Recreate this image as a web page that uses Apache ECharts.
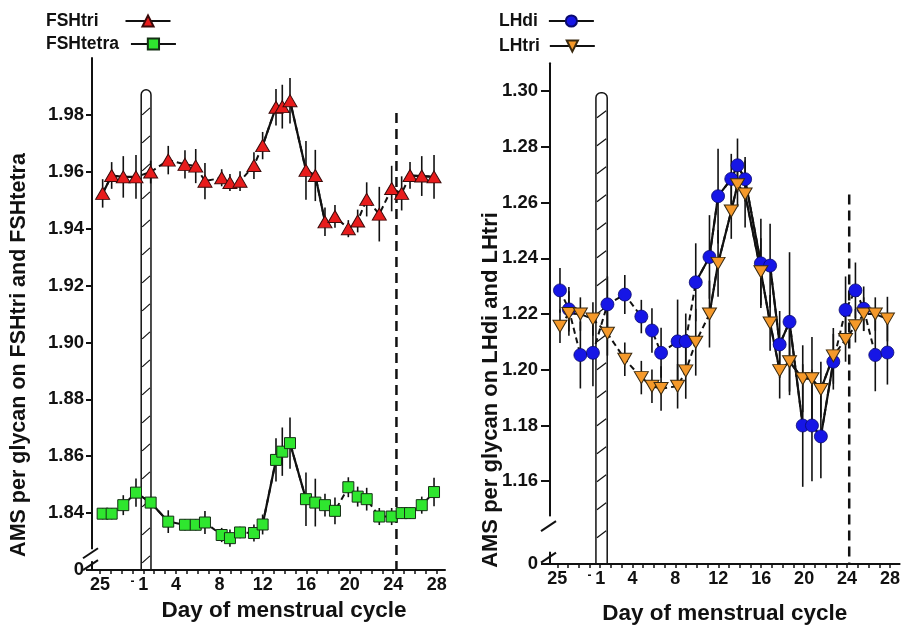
<!DOCTYPE html>
<html><head><meta charset="utf-8">
<script src="https://cdn.jsdelivr.net/npm/echarts@6/dist/echarts.min.js"></script>
<style>html,body{margin:0;padding:0;background:#fff}#c{width:903px;height:630px}</style>
</head><body><div id="c"></div>
<script>
// ---- data (day of cycle; previous-cycle days as <=0) ----
const days = [-2.75,-1.92,-0.85,0.32,1.67,3.29,4.83,5.82,6.67,8.21,8.97,9.90,11.18,11.98,13.21,13.79,14.5,15.97,16.83,17.72,18.64,19.87,20.73,21.56,22.72,23.86,24.78,25.55,26.63,27.76];
const fshTri = [1.9524,1.9587,1.9582,1.9582,1.9599,1.9641,1.9626,1.9620,1.9567,1.9579,1.9562,1.9567,1.9622,1.9692,1.9827,1.9829,1.9850,1.9605,1.9587,1.9424,1.9443,1.9400,1.9427,1.9503,1.9451,1.9541,1.9524,1.9587,1.9585,1.9582];
const fshTriErr = [0.005,0.0047,0.0073,0.0077,0.004,0.005,0.005,0.006,0.0064,0.003,0.003,0.0035,0.0047,0.0048,0.0064,0.0077,0.008,0.0103,0.009,0.005,0.004,0.003,0.004,0.006,0.0096,0.008,0.006,0.0047,0.007,0.0077];
const fshTetra = [1.8398,1.8398,1.8428,1.8472,1.8437,1.8370,1.8359,1.8359,1.8367,1.8323,1.8312,1.8332,1.8330,1.8360,1.8587,1.8616,1.8646,1.8449,1.8437,1.8428,1.8408,1.8491,1.8458,1.8449,1.8388,1.8388,1.8400,1.8400,1.8428,1.8474];
const fshTetraErr = [0.002,0.002,0.0035,0.005,0.002,0.004,0.002,0.002,0.004,0.0025,0.003,0.002,0.003,0.0035,0.0076,0.0085,0.009,0.0094,0.0084,0.004,0.0047,0.0035,0.0035,0.004,0.003,0.003,0.002,0.002,0.003,0.005];
const lhDi = [1.2285,1.2217,1.2053,1.2061,1.2235,1.2270,1.2191,1.2141,1.2061,1.2102,1.2102,1.2314,1.2405,1.2623,1.2685,1.2734,1.2684,1.2382,1.2374,1.2091,1.2172,1.1800,1.1800,1.1761,1.2029,1.2215,1.2285,1.2219,1.2053,1.2062];
const lhDiErr = [0.008,0.008,0.012,0.012,0.01,0.007,0.006,0.008,0.009,0.015,0.01,0.014,0.015,0.017,0.009,0.0096,0.008,0.016,0.015,0.012,0.025,0.022,0.02,0.015,0.01,0.012,0.01,0.008,0.013,0.0115];
const lhTri = [1.2156,1.2202,1.2200,1.2182,1.2131,1.2038,1.1972,1.1941,1.1933,1.1941,1.1996,1.2099,1.2200,1.2382,1.2570,1.2664,1.2631,1.2352,1.2168,1.1997,1.2029,1.1968,1.1968,1.1929,1.2050,1.2109,1.2158,1.2200,1.2200,1.2182];
const lhTriErr = [0.006,0.008,0.006,0.006,0.008,0.006,0.006,0.006,0.008,0.008,0.01,0.012,0.012,0.012,0.01,0.008,0.012,0.012,0.01,0.01,0.012,0.012,0.015,0.01,0.01,0.008,0.006,0.006,0.006,0.008];
// index ranges drawn with solid connecting line (others dashed)
const fshTriSolid = [[0,3],[13,19],[27,29]];
const fshTetraSolid = [[3,5],[12,18]];
const lhDiSolid = [[11,24]];
const lhTriSolid = [[12,24]];
// tick labels
const xTickDays = [-3,-2,-1,0,1,2,3,4,5,6,7,8,9,10,11,12,13,14,15,16,17,18,19,20,21,22,23,24,25,26,27,28];
const xLabelDays = [-3,0,1,4,8,12,16,20,24,28];
const xLabelText = ['25','-','1','4','8','12','16','20','24','28'];
const leftYTicks = [1.82,1.84,1.86,1.88,1.90,1.92,1.94,1.96,1.98];
const rightYTicks = [1.1303,1.16,1.18,1.20,1.22,1.24,1.26,1.28,1.30];
// annotations: menses bar [dayFrom, dayTo, top] and dashed line [day, top]
const leftBar = [0.8, 1.7, 1.9888];
const rightBar = [0.6, 1.65, 1.2994];
const leftDash = [24.3, 1.9807];
const rightDash = [24.2, 1.2629];

const FONT = 'Liberation Sans, Arial, sans-serif';
const INK = '#111';
const LEFT_MIN = 1.82, LEFT_MAX = 2.0, RIGHT_MIN = 1.1303, RIGHT_MAX = 1.31;

const chart = echarts.init(document.getElementById('c'), null, {renderer: 'canvas'});

function pts(vals) { return days.map((d, i) => [d, vals[i]]); }
function solidPts(vals, ranges) {
  return days.map((d, i) => [d, ranges.some(r => i >= r[0] && i <= r[1]) ? vals[i] : null]);
}
function errData(vals, errs) { return days.map((d, i) => [d, vals[i], errs[i]]); }

function errSeries(gi, vals, errs) {
  return {
    type: 'custom', xAxisIndex: gi, yAxisIndex: gi, z: 1, silent: true,
    data: errData(vals, errs), encode: {x: 0, y: 1},
    renderItem: function (params, api) {
      const x = api.value(0), y = api.value(1), e = api.value(2);
      const p1 = api.coord([x, y + e]), p2 = api.coord([x, y - e]);
      return {type: 'line', shape: {x1: p1[0], y1: p1[1], x2: p2[0], y2: p2[1]},
        style: {stroke: INK, lineWidth: 1.6}};
    }
  };
}
function barSeries(gi, bar, bottom) {
  return {
    type: 'custom', xAxisIndex: gi, yAxisIndex: gi, z: 0, silent: true,
    data: [[bar[0], bar[1], bar[2], bottom]], encode: {x: [0, 1], y: [2, 3]},
    renderItem: function (params, api) {
      const a = api.coord([api.value(0), api.value(2)]);
      const b = api.coord([api.value(1), api.value(3)]);
      const children = [{type: 'rect', shape: {x: a[0], y: a[1], width: b[0] - a[0], height: b[1] - a[1], r: [5, 5, 0, 0]},
        style: {fill: '#fff', stroke: INK, lineWidth: 1.5}}];
      for (let yy = a[1] + 18; yy < b[1] - 8; yy += 28) {
        children.push({type: 'line', shape: {x1: a[0] + 1, y1: yy + 7, x2: b[0] - 1, y2: yy},
          style: {stroke: INK, lineWidth: 1.2}});
      }
      return {type: 'group', children: children};
    }
  };
}
function dashSeries(gi, dash, bottom) {
  return {type: 'line', xAxisIndex: gi, yAxisIndex: gi, z: 1, silent: true, symbol: 'none',
    data: [[dash[0], dash[1]], [dash[0], bottom]],
    lineStyle: {color: INK, width: 2.5, type: [10, 6]}};
}
function mainSeries(gi, name, vals, sym) {
  return Object.assign({type: 'line', name: name, xAxisIndex: gi, yAxisIndex: gi, z: 4,
    data: pts(vals), showSymbol: true, lineStyle: {color: INK, width: 2, type: [6, 4]}}, sym);
}
function solidSeries(gi, vals, ranges) {
  return {type: 'line', xAxisIndex: gi, yAxisIndex: gi, z: 3, silent: true, symbol: 'none',
    data: solidPts(vals, ranges), connectNulls: false, lineStyle: {color: INK, width: 2.2}};
}

const xAxisBase = {
  type: 'value', splitLine: {show: false},
  axisLine: {show: true, onZero: false, lineStyle: {color: INK, width: 2}},
  axisTick: {show: true, customValues: xTickDays, length: 4, lineStyle: {color: INK, width: 1.5}},
  axisLabel: {show: true, customValues: xLabelDays, margin: 6,
    formatter: v => {
      const k = xLabelDays.findIndex(d => Math.abs(d - v) < 1e-6);
      if (k < 0) return '';
      return xLabelText[k] === '-' ? '{s|-}' : xLabelText[k];
    },
    rich: {s: {fontSize: 12, fontWeight: 'bold', fontFamily: 'Liberation Sans, Arial, sans-serif', color: '#111', padding: [0, 0, 8, 0]}},
    fontFamily: FONT, fontWeight: 'bold', fontSize: 18, color: INK},
  name: 'Day of menstrual cycle', nameLocation: 'middle',
  nameTextStyle: {fontFamily: FONT, fontWeight: 'bold', fontSize: 22.5, color: INK}
};
function yAxisBase(gi, min, max, ticks, tickLen, margin) {
  return {type: 'value', gridIndex: gi, min: min, max: max, splitLine: {show: false},
    axisLine: {show: true, onZero: false, lineStyle: {color: INK, width: 2}},
    axisTick: {show: true, customValues: ticks, length: tickLen, lineStyle: {color: INK, width: 2}},
    axisLabel: {show: true, customValues: ticks, margin: margin,
      formatter: v => Math.abs(v - min) < 1e-6 ? '0' : v.toFixed(2),
      fontFamily: FONT, fontWeight: 'bold', fontSize: 18.5, color: INK}};
}
const legendBase = {orient: 'horizontal', align: 'right', padding: 0, itemWidth: 45, itemHeight: 14, itemGap: 0,
  selectedMode: false, textStyle: {fontFamily: FONT, fontWeight: 'bold', fontSize: 17.5, color: INK},
  lineStyle: {type: 'solid', width: 2, color: INK}};

const triSym = {symbol: 'triangle', symbolSize: [14, 12], itemStyle: {color: '#e81c1c', borderColor: '#3a0a0a', borderWidth: 1}};
const sqSym = {symbol: 'rect', symbolSize: 11, itemStyle: {color: '#2fe62f', borderColor: '#153015', borderWidth: 1}};
const cirSym = {symbol: 'circle', symbolSize: 13, itemStyle: {color: '#1616e6', borderColor: '#0a0a70', borderWidth: 0.8}};
const invSym = {symbol: 'triangle', symbolRotate: 180, symbolSize: [14, 12], itemStyle: {color: '#f5992a', borderColor: '#3a2a10', borderWidth: 1}};

const option = {
  backgroundColor: '#fff',
  animation: false,
  grid: [
    {left: 92, top: 58, width: 353, height: 512},
    {left: 550, top: 63.3, width: 356.7, height: 509.4}
  ],
  xAxis: [
    Object.assign({}, xAxisBase, {gridIndex: 0, min: -3.73, max: 28.77, nameGap: 28,
      nameTextStyle: Object.assign({}, xAxisBase.nameTextStyle, {padding: [0, 0, 0, 31]})}),
    Object.assign({}, xAxisBase, {gridIndex: 1, min: -3.68, max: 28.9, nameGap: 38})
  ],
  yAxis: [
    yAxisBase(0, LEFT_MIN, LEFT_MAX, leftYTicks, 6, 8),
    yAxisBase(1, RIGHT_MIN, RIGHT_MAX, rightYTicks, 9, 12)
  ],
  legend: [
    Object.assign({}, legendBase, {left: 46, top: 12, data: [{name: 'FSHtri', textStyle: {padding: [0, 22, 0, 0]}}]}),
    Object.assign({}, legendBase, {left: 46, top: 35, data: [{name: 'FSHtetra', textStyle: {padding: [0, 7, 0, 0]}}]}),
    Object.assign({}, legendBase, {left: 499, top: 12, data: [{name: 'LHdi', textStyle: {padding: [0, 6, 0, 0]}}]}),
    Object.assign({}, legendBase, {left: 499, top: 37, data: [{name: 'LHtri', textStyle: {padding: [0, 5, 0, 0]}}]})
  ],
  series: [
    barSeries(0, leftBar, LEFT_MIN),
    dashSeries(0, leftDash, LEFT_MIN),
    errSeries(0, fshTri, fshTriErr),
    errSeries(0, fshTetra, fshTetraErr),
    solidSeries(0, fshTri, fshTriSolid),
    solidSeries(0, fshTetra, fshTetraSolid),
    mainSeries(0, 'FSHtri', fshTri, triSym),
    mainSeries(0, 'FSHtetra', fshTetra, sqSym),
    barSeries(1, rightBar, RIGHT_MIN),
    dashSeries(1, rightDash, RIGHT_MIN),
    errSeries(1, lhDi, lhDiErr),
    errSeries(1, lhTri, lhTriErr),
    solidSeries(1, lhDi, lhDiSolid),
    solidSeries(1, lhTri, lhTriSolid),
    mainSeries(1, 'LHdi', lhDi, cirSym),
    mainSeries(1, 'LHtri', lhTri, invSym)
  ]
};
chart.setOption(option);

// axis breaks and rotated y titles
function breakEls(gi, xmin, gapTop, gapBot, slashVals) {
  const t = chart.convertToPixel({gridIndex: gi}, [xmin, gapTop]);
  const b = chart.convertToPixel({gridIndex: gi}, [xmin, gapBot]);
  const els = [{type: 'rect', shape: {x: t[0] - 3, y: t[1], width: 6, height: b[1] - t[1]}, style: {fill: '#fff'}, z: 100}];
  slashVals.forEach(v => {
    const p = chart.convertToPixel({gridIndex: gi}, [xmin, v]);
    els.push({type: 'line', shape: {x1: p[0] - 9, y1: p[1] + 5, x2: p[0] + 6, y2: p[1] - 5}, style: {stroke: INK, lineWidth: 2}, z: 101});
  });
  return els;
}
const els = [].concat(
  breakEls(0, -3.73, 1.8273, 1.8231, [1.8259, 1.8217]),
  breakEls(1, -3.68, 1.1474, 1.1347, [1.1439, 1.1326]),
  [
    {type: 'text', x: 19, y: 355, rotation: Math.PI / 2, z: 100,
      style: {text: 'AMS per glycan on FSHtri and FSHtetra', align: 'center', verticalAlign: 'middle',
        font: 'bold 21.5px ' + FONT, fill: INK}},
    {type: 'text', x: 491, y: 390, rotation: Math.PI / 2, z: 100,
      style: {text: 'AMS per glycan on LHdi and LHtri', align: 'center', verticalAlign: 'middle',
        font: 'bold 22px ' + FONT, fill: INK}}
  ]
);
chart.setOption({graphic: {elements: els}});
</script>
</body></html>
